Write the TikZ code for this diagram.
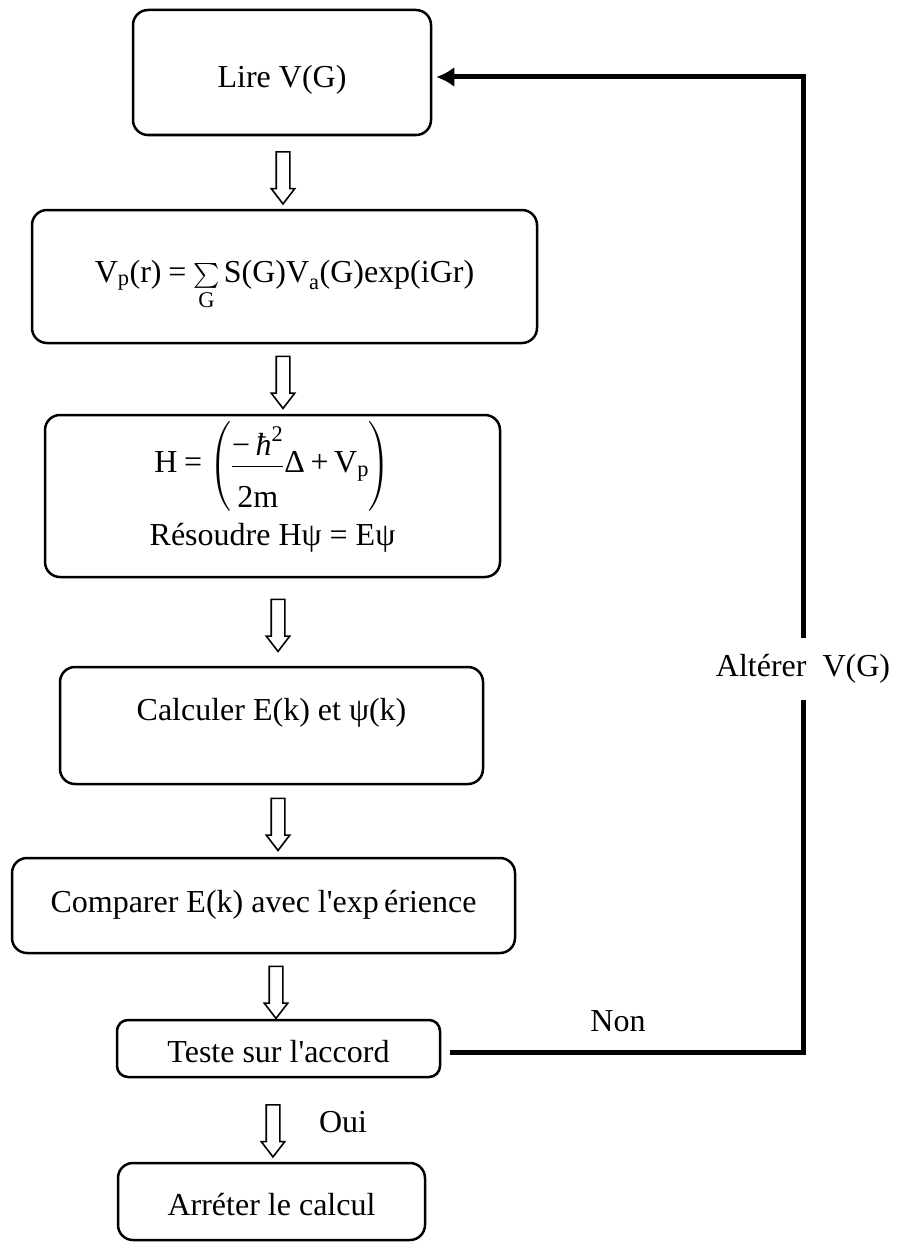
\documentclass[tikz,border=0pt]{standalone}
\usepackage{amsmath}
\usepackage{fontspec}
\setmainfont{Liberation Serif}[Ligatures=TeXOff]
\usetikzlibrary{arrows.meta,shapes.arrows}
\newcommand{\tx}[1]{\text{#1}}
\tikzset{block/.style = {draw, rounded corners=15pt, line width=2.5pt, align=center, inner sep=0pt, font=\fontsize{32}{40}\selectfont}}
\tikzset{flow/.style = {single arrow, draw, line width=1.6pt, minimum height=52pt, minimum width=22pt, single arrow head extend=5pt, single arrow tip angle=75, inner sep=6pt, rotate=-90}}
\tikzset{back/.style = {line width=5pt}}
\tikzset{word/.style = {font=\fontsize{32}{40}\selectfont}}

\begin{document}
\begin{tikzpicture}[x=1pt,y=-1pt]
		\path[use as bounding box, fill=white] (0,0) rectangle (901,1244);
		
		% steps
		\node[block, minimum width=298pt, minimum height=125pt, text height=36pt, text depth=6pt] (lire) at (282,72.5) {Lire V(G)};
		\node[block, minimum width=505pt, minimum height=133pt, text height=26pt, text depth=15pt] (vp) at (284.5,276.5) {$\tx{V}_{\tx{p}}\tx{(r)}\mathrel{\tx{=}}\sum\limits_{\tx{G}}\tx{S(G)V}_{\tx{a}}\tx{(G)exp(iGr)}$};
		\node[block, minimum width=455pt, minimum height=162pt] (ham) at (272.5,496) {$\tx{H}\mathrel{\tx{=}}\left(\dfrac{\tx{−\,\itshape ħ}^{\tx{2}}}{\rule{0pt}{38pt}\tx{2m}}\tx{Δ}\mathbin{\tx{+}}\tx{V}_{\tx{p}}\right)$\\[11pt] Résoudre Hψ = Eψ\rule[-25pt]{0pt}{1pt}};
		\node[block, minimum width=423pt, minimum height=117pt, text height=20pt, text depth=31pt] (calc) at (271.5,725.5) {Calculer E(k) et ψ(k)};
		\node[block, minimum width=503pt, minimum height=95pt, text height=24pt, text depth=11pt] (comp) at (263.5,905.5) {Comparer E(k) avec l'exp\,érience};
		\node[block, rounded corners=11pt, minimum width=323pt, minimum height=57pt, text height=33pt, text depth=6pt] (teste) at (278.5,1048.5) {Teste sur l'accord};
		\node[block, minimum width=307pt, minimum height=77pt, text height=33pt, text depth=6pt] (stop) at (271.5,1201.5) {Arréter le calcul};
		
		% open arrows
		\node[flow] (f1) at (283,173.5) {};
		\node[flow] (f2) at (283,378) {};
		\node[flow] (f3) at (278,621) {};
		\node[flow] (f4) at (278,820) {};
		\node[flow] (f5) at (276,988) {};
		\node[flow] (f6) at (273,1126.5) {};
		
		% labels
		\node[word, minimum height=62pt] (alt) at (803,669) {Altérer~~V(G)};
		\node[word] (non) at (618,1021) {Non};
		\node[word] (oui) at (343,1122) {Oui};
		
		% loop back
		\draw[back] ([xshift=9pt,yshift=-3.5pt]teste.east) -| (alt.south);
		\draw[back, -{Latex[length=18pt,width=20pt]}] (alt.north) |- ([xshift=4pt,yshift=-4.5pt]lire.east);
	\end{tikzpicture}
\end{document}
